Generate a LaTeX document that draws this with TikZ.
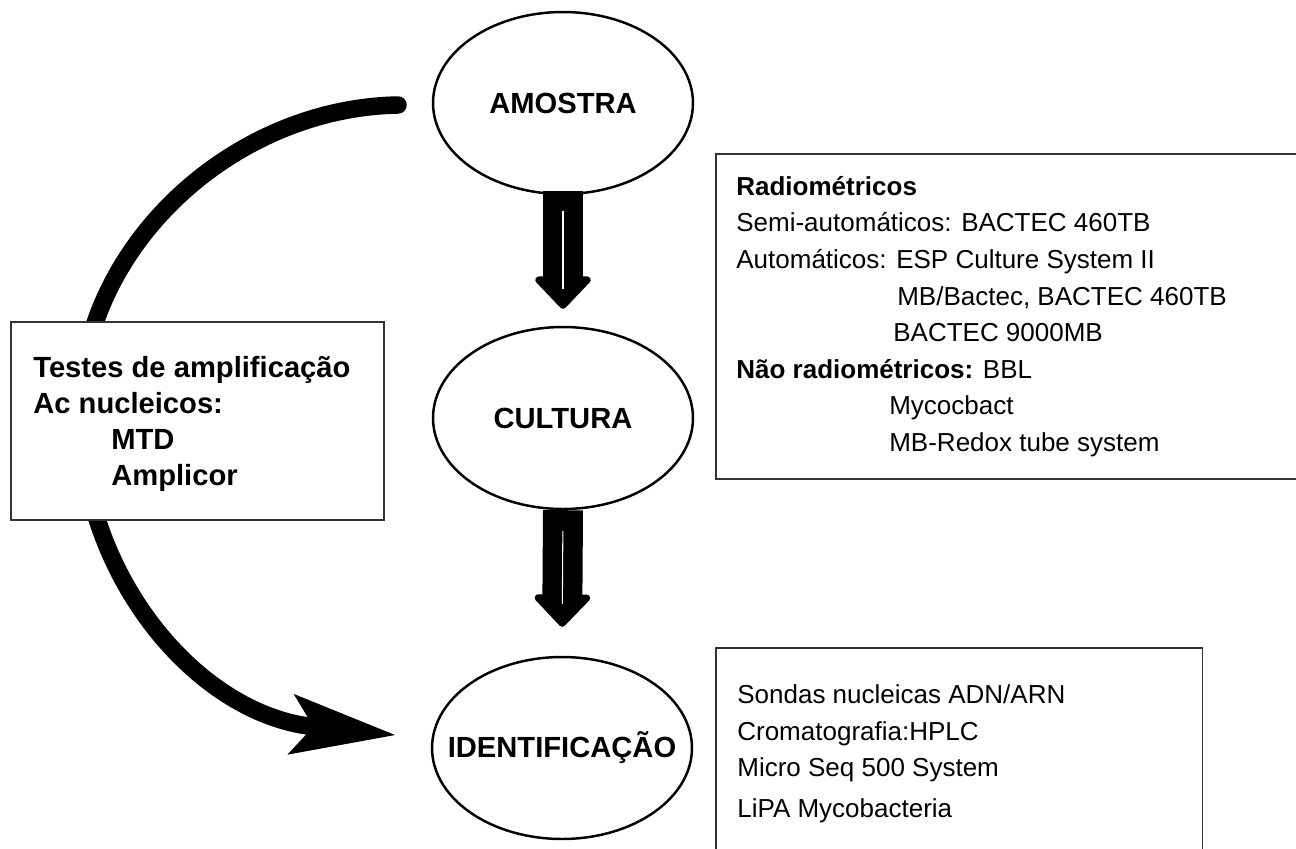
\documentclass[tikz,border=0pt]{standalone}
\usepackage{fontspec}
\setmainfont{Liberation Sans}
\usetikzlibrary{arrows.meta, positioning, shapes.geometric}

\begin{document}
\begin{tikzpicture}[
		x=0.02cm, y=-0.02cm,
		stage/.style={
			ellipse,
			draw=black,
			line width=1.4pt,
			fill=white,
			minimum width=5.2cm,
			minimum height=3.64cm,
			inner xsep=-0.5cm,
			inner ysep=0pt,
			font=\fontsize{16.6}{20}\selectfont\bfseries
		},
		panel/.style={
			rectangle,
			draw=black!80,
			line width=0.9pt,
			fill=white,
			anchor=north west
		},
		listing/.style={
			anchor=north west,
			align=left,
			inner sep=0pt,
			font=\fontsize{14.8}{20.8}\selectfont
		},
		blockarrow/.style={
			line width=0.8cm,
			-{Triangle[length=0.68cm, width=1.26cm, line width=4pt, round]},
		},
		bigcurve/.style={
			line width=0.35cm,
			line cap=round,
			-{Stealth[length=2.1cm, width=1.22cm, inset=0.46cm, line width=0.5pt]},
		},
		gap/.style={white, line width=0.6pt}
	]

	\useasboundingbox (0,0) rectangle (1296,849);

	\node[stage] (amostra) at (563,103) {AMOSTRA};
	\node[stage] (cultura) at (563,418) {CULTURA};
	\node[stage] (ident) at (562,748) {IDENTIFICAÇÃO};

	\draw[blockarrow, shorten <=-0.08cm, shorten >=0.34cm] (amostra.south) -- (cultura.north);
	\draw[gap, shorten <=0.32cm, shorten >=0.74cm] (amostra.south) -- (cultura.north);
	\draw[blockarrow, shorten >=0.58cm] (cultura.south) -- (ident.north);
	\draw[gap, shorten <=0.42cm, shorten >=1.04cm] (cultura.south) -- (ident.north);

	% amplification tests skip the culture step
	\coordinate (curvestart) at (398,105);
	\coordinate (curvetip) at (395,735);
	\draw[bigcurve] (curvestart) .. controls (230,108) and (78,250) .. (80,415)
		.. controls (82,580) and (200,715) .. (curvetip);

	\node[panel, minimum width=7.46cm, minimum height=3.96cm] (ampbox) at (10,321) {};
	\node[listing, font=\fontsize{16.6}{20.5}\selectfont\bfseries] (amptext) at (33,356)
		{Testes de amplificação\\Ac nucleicos:\\\hspace*{1.56cm}MTD\\\hspace*{1.56cm}Amplicor};

	\node[panel, minimum width=11.9cm, minimum height=6.5cm] (culturebox) at (715,153) {};
	\node[listing] (culturetext) at (736,176)
		{\textbf{Radiométricos}\\
		Semi-automáticos: BACTEC 460TB\\
		Automáticos: ESP Culture System II\\
		\hspace*{3.22cm}MB/Bactec, BACTEC 460TB\\
		\hspace*{3.14cm}BACTEC 9000MB\\
		\textbf{Não radiométricos:} BBL\\
		\hspace*{3.06cm}Mycocbact\\
		\hspace*{3.06cm}MB-Redox tube system};

	\node[panel, minimum width=9.74cm, minimum height=4.6cm] (identbox) at (715,647) {};
	\node[listing, font=\fontsize{14.8}{21}\selectfont] (identtext) at (737,684)
		{Sondas nucleicas ADN/ARN\\Cromatografia:HPLC\\Micro Seq 500 System\\[2pt]LiPA Mycobacteria};

\end{tikzpicture}
\end{document}
